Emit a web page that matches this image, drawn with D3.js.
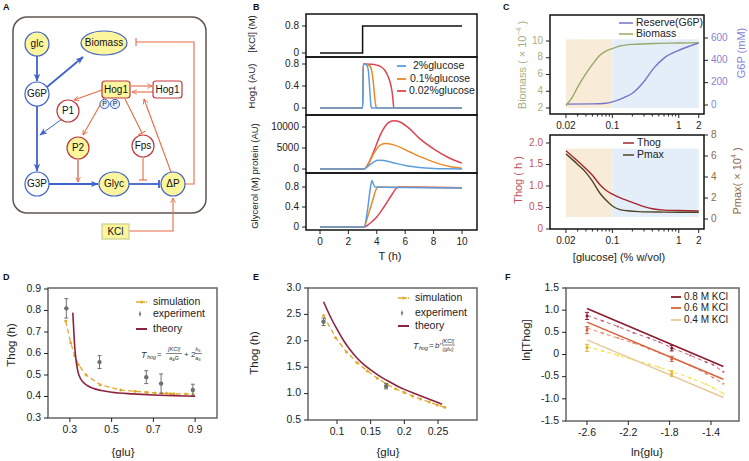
<!DOCTYPE html>
<html><head><meta charset="utf-8">
<script src="https://cdn.jsdelivr.net/npm/d3@7/dist/d3.min.js"></script>
<style>
body{margin:0;background:#fff}
svg{display:block}
text{font-family:"Liberation Sans",Arial,Helvetica,sans-serif}
</style></head><body>
<svg id="fig" width="749" height="461"></svg>
<script>
// ================= DATA =================
// Panel B : time courses  [time (h), value]
const bTimeTicks=[0,2,4,6,8,10];
const bSeriesNames=["2%glucose","0.1%glucose","0.02%glucose"];
const kclStep=[[0,0],[3,0],[3,0.8],[10,0.8]];
const hog2=[[0,0],[3,0],[3.05,0.8],[3.2,0.795],[3.33,0.76],[3.43,0.62],[3.5,0.35],[3.57,0.08],[3.62,0],[10,0]];
const hog01=[[0,0],[3,0],[3.05,0.8],[3.35,0.79],[3.55,0.75],[3.68,0.62],[3.78,0.4],[3.87,0.15],[3.95,0.02],[4.0,0],[10,0]];
const hog002=[[0,0],[3,0],[3.05,0.8],[3.6,0.795],[4.0,0.78],[4.3,0.75],[4.55,0.69],[4.75,0.6],[4.9,0.5],[5.0,0.4],[5.1,0.25],[5.15,0.12],[5.2,0],[10,0]];
const prot2=[[0,0],[3.1,0],[3.4,700],[3.8,1700],[4.1,2080],[4.5,2000],[5.2,1450],[6,850],[7,380],[8,140],[9,45],[10,15]];
const prot01=[[0,0],[3.1,0],[3.4,1200],[3.8,3800],[4.2,5600],[4.6,6100],[5.2,5750],[6.3,4100],[7,3000],[7.75,2000],[8.5,1100],[9.3,500],[10,200]];
const prot002=[[0,0],[3.1,0],[3.4,1200],[3.8,4300],[4.3,8500],[4.8,11000],[5.2,11500],[5.6,11250],[6.2,9900],[7,7300],[8,4800],[9,2800],[10,1400]];
const gly2=[[0,0],[3.1,0],[3.35,0.35],[3.55,0.78],[3.66,0.93],[3.76,0.86],[3.88,0.8],[6,0.79],[10,0.78]];
const gly01=[[0,0],[3.1,0],[3.4,0.25],[3.7,0.52],[3.95,0.75],[4.1,0.8],[6,0.795],[10,0.785]];
const gly002=[[0,0],[3.1,0],[3.5,0.07],[4,0.2],[4.5,0.4],[5,0.62],[5.4,0.78],[5.6,0.8],[10,0.785]];

// Panel C : glucose dependence
const cGluTicks=[0.02,0.1,1,2];
const cGluMinor=[0.03,0.04,0.05,0.06,0.07,0.08,0.09,0.2,0.3,0.4,0.5,0.6,0.7,0.8,0.9];
const cBioGlu=[0.02,0.025,0.03,0.04,0.05,0.065,0.08,0.1,0.13,0.2,0.5,1,2];
const cBiomass=[2.3,3.3,4.5,6.1,7.2,8.3,8.8,9.1,9.4,9.6,9.72,9.76,9.8];
const cG6PGlu=[0.02,0.05,0.08,0.1,0.13,0.16,0.2,0.3,0.42,0.6,1,1.5,2];
const cG6P=[8,10,16,28,50,75,105,210,330,420,490,530,555];
const cThogGlu=[0.02,0.03,0.04,0.05,0.065,0.08,0.1,0.15,0.2,0.3,0.4,0.6,1,2];
const cThog=[1.82,1.58,1.4,1.25,1.03,0.9,0.81,0.69,0.62,0.52,0.47,0.44,0.43,0.42];
const cPmaxGlu=[0.02,0.03,0.041,0.05,0.065,0.08,0.1,0.13,0.17,0.25,0.5,1,2];
const cPmax=[6.2,5.2,4.35,3.6,2.45,1.8,1.24,0.9,0.78,0.7,0.66,0.65,0.64];

// Panel D
const dSimGlu=[0.28,0.304,0.323,0.341,0.378,0.445,0.544,0.612,0.669,0.707,0.74,0.763,0.782,0.798,0.855,0.89];
const dSimT=[0.751,0.65,0.59,0.548,0.50,0.455,0.43,0.424,0.42,0.416,0.415,0.415,0.413,0.413,0.412,0.411];
const dExpGlu=[0.283,0.442,0.666,0.737,0.889];
const dExpT=[0.81,0.56,0.49,0.46,0.43];
const dExpErr=[0.045,0.03,0.03,0.045,0.027];
const dTheoGlu=[0.314,0.318,0.322,0.327,0.333,0.34,0.35,0.365,0.385,0.41,0.45,0.5,0.6,0.7,0.8,0.9];
const dTheoT=[0.79,0.72,0.65,0.59,0.545,0.51,0.485,0.465,0.45,0.438,0.428,0.42,0.412,0.407,0.404,0.401];

// Panel E
const eSimGlu=[0.08,0.098,0.114,0.13,0.145,0.16,0.174,0.187,0.2,0.212,0.224,0.237,0.249,0.26];
const eSimT=[2.48,2.06,1.79,1.585,1.43,1.29,1.18,1.09,1.02,0.955,0.90,0.84,0.785,0.74];
const eExpGlu=[0.08,0.173];
const eExpT=[2.36,1.14];
const eExpErr=[0.07,0.05];
const eTheoGlu=[0.08,0.09,0.1,0.11,0.12,0.13,0.14,0.15,0.16,0.17,0.18,0.19,0.2,0.22,0.24,0.256];
const eTheoT=[2.74,2.46,2.22,2.0,1.82,1.67,1.55,1.45,1.36,1.28,1.21,1.14,1.08,0.98,0.88,0.80];

// Panel F
const fKCl=["0.8 M KCl","0.6 M KCl","0.4 M KCl"];
const fFitLnGlu=[-2.6,-1.28];
const fFit08=[1.04,-0.27], fFit06=[0.73,-0.56], fFit04=[0.33,-0.97];
const fSimLnGlu=[-2.6,-2.45,-2.3,-2.15,-2.0,-1.9,-1.78,-1.6,-1.45,-1.38,-1.28];
const fSim08=[0.88,0.76,0.63,0.49,0.37,0.28,0.15,-0.02,-0.17,-0.23,-0.39];
const fSim06=[0.6,0.48,0.37,0.26,0.13,0.04,-0.07,-0.25,-0.43,-0.52,-0.66];
const fSim04=[0.18,0.08,-0.02,-0.12,-0.22,-0.29,-0.38,-0.53,-0.67,-0.75,-0.88];
const fExpLnGlu=[-2.6,-1.78];
const fExp08=[0.87,0.14], fExp06=[0.55,-0.1], fExp04=[0.15,-0.43];
const fExpErr=[0.08,0.06];

// ================= DRAWING =================
const svg=d3.select("#fig");
const SERIF='"Liberation Serif","Times New Roman",serif';
const defs=svg.append("defs");

function T(g,x,y,s,o={}){
  const t=g.append("text").attr("x",x).attr("y",y).text(s)
    .attr("font-size",o.size||10).attr("fill",o.fill||"#222")
    .attr("text-anchor",o.anchor||"start").attr("dominant-baseline",o.base||"middle");
  if(o.weight) t.attr("font-weight",o.weight);
  if(o.family) t.attr("font-family",o.family);
  if(o.style) t.attr("font-style",o.style);
  if(o.rotate) t.attr("transform",`rotate(${o.rotate},${x},${y})`);
  return t;
}
function L(g,x1,y1,x2,y2,stroke,w,extra){
  const l=g.append("line").attr("x1",x1).attr("y1",y1).attr("x2",x2).attr("y2",y2)
   .attr("stroke",stroke).attr("stroke-width",w||1);
  if(extra&&extra.dash) l.attr("stroke-dasharray",extra.dash);
  if(extra&&extra.marker) l.attr("marker-end",`url(#${extra.marker})`);
  return l;
}
function yAxis(g,scale,x,ticks,o){
  ticks.forEach(v=>{
    const y=scale(v); const dir=o.right?1:-1;
    L(g,x,y,x+dir*(o.len||4),y,o.tickColor||"#222",1);
    T(g,x+dir*(o.len||4)+dir*3,y,o.fmt?o.fmt(v):String(v),{size:o.size||10,fill:o.fill||"#222",anchor:o.right?"start":"end"});
  });
}
function xAxis(g,scale,y,ticks,o){
  ticks.forEach(v=>{
    const x=scale(v);
    L(g,x,y,x,y+(o.len||4),o.tickColor||"#222",1);
    T(g,x,y+(o.len||4)+8,o.fmt?o.fmt(v):String(v),{size:o.size||10,fill:o.fill||"#222",anchor:"middle"});
  });
}
function frame(g,x0,y0,x1,y1,stroke,w){
  g.append("rect").attr("x",x0).attr("y",y0).attr("width",x1-x0).attr("height",y1-y0)
   .attr("fill","none").attr("stroke",stroke).attr("stroke-width",w);
}

// panel letters
const letters=[["A",3,8],["B",253,8],["C",503,8],["D",3,278],["E",253,278],["F",505,278]];
letters.forEach(([s,x,y])=>T(svg,x,y,s,{size:9,weight:"bold",fill:"#111"}));

// ---------- Panel A (schematic) ----------
const A=svg.append("g");
const blue="#3f63c8", red="#e76b47", nRed="#c0393c", yel="#fbf59e";
function mk(id,color,filled){
  const m=defs.append("marker").attr("id",id).attr("viewBox","0 0 10 10").attr("refX",9).attr("refY",5)
    .attr("markerWidth",filled?8:6).attr("markerHeight",filled?8:6).attr("orient","auto").attr("markerUnits","userSpaceOnUse");
  if(filled) m.append("path").attr("d","M0,1L10,5L0,9L2.5,5Z").attr("fill",color);
  else m.append("path").attr("d","M1,1L9,5L1,9").attr("fill","none").attr("stroke",color).attr("stroke-width",1.4);
}
mk("mb",blue,true); mk("mr",red,false);
A.append("rect").attr("x",13).attr("y",17).attr("width",193).attr("height",196).attr("rx",14)
 .attr("fill","none").attr("stroke","#5f554f").attr("stroke-width",1.5);
function tbar(g,x1,y1,x2,y2,color,w){
  L(g,x1,y1,x2,y2,color,w);
  const dx=x2-x1,dy=y2-y1,n=Math.hypot(dx,dy),px=-dy/n*4,py=dx/n*4;
  L(g,x2+px,y2+py,x2-px,y2-py,color,w);
}
// blue pathways
L(A,37,56,37,81,blue,1.8,{marker:"mb"});
L(A,47,87,83,57,blue,1.8,{marker:"mb"});
L(A,37,106,37,171,blue,1.8,{marker:"mb"});
L(A,49,184,98,184,blue,1.8,{marker:"mb"});
tbar(A,129,184,159,184,blue,1.8);
L(A,62,119,40,135,blue,1,{marker:"mb"});
// red regulation
L(A,102,90,74,100,red,1.1,{marker:"mr"});
L(A,104,98,83,135,red,1.1,{marker:"mr"});
tbar(A,125,99,142,133,red,1.1);
L(A,78,160,78,182,"#b8443a",1.1,{marker:"mr"});
tbar(A,143,158,143,180,red,1.1);
L(A,131,86,152,86,red,1.1,{marker:"mr"});
L(A,153,92,132,92,red,1.1,{marker:"mr"});
L(A,171,172,144,99,red,1.1,{marker:"mr"});
A.append("path").attr("d","M185,184H194V42H136").attr("fill","none").attr("stroke",red).attr("stroke-width",1.1);
L(A,136,38,136,46,red,1.1);
A.append("path").attr("d","M129,231H173V198").attr("fill","none").attr("stroke",red).attr("stroke-width",1.1).attr("marker-end","url(#mr)");
// nodes
const aNodes=[
 {label:"glc",shape:"e",cx:37,cy:44,rx:12,ry:12,fill:yel,stroke:blue},
 {label:"Biomass",shape:"e",cx:104,cy:43,rx:23,ry:12,fill:yel,stroke:blue},
 {label:"G6P",shape:"e",cx:37,cy:94,rx:12,ry:12,fill:"#fff",stroke:blue},
 {label:"G3P",shape:"e",cx:37,cy:184,rx:12,ry:12,fill:"#fff",stroke:blue},
 {label:"Glyc",shape:"e",cx:114,cy:184,rx:15,ry:12,fill:yel,stroke:blue},
 {label:"ΔP",shape:"e",cx:173,cy:184,rx:12,ry:12,fill:yel,stroke:blue},
 {label:"P1",shape:"e",cx:68,cy:111,rx:11,ry:11,fill:"#fff",stroke:nRed},
 {label:"P2",shape:"e",cx:78,cy:148,rx:11,ry:11,fill:yel,stroke:nRed},
 {label:"Fps",shape:"e",cx:143,cy:146,rx:11,ry:11,fill:"#fff",stroke:nRed},
 {label:"Hog1",shape:"r",cx:116,cy:89.5,w:28,h:17,fill:yel,stroke:nRed},
 {label:"Hog1",shape:"r",cx:167.5,cy:89.5,w:29,h:17,fill:"#fff",stroke:nRed},
 {label:"KCl",shape:"r",cx:115.5,cy:231.5,w:27,h:15,fill:yel,stroke:"#c9cf8c",sq:true}
];
aNodes.forEach(n=>{
  if(n.shape==="e") A.append("ellipse").attr("cx",n.cx).attr("cy",n.cy).attr("rx",n.rx).attr("ry",n.ry)
     .attr("fill",n.fill).attr("stroke",n.stroke).attr("stroke-width",1.2);
  else A.append("rect").attr("x",n.cx-n.w/2).attr("y",n.cy-n.h/2).attr("width",n.w).attr("height",n.h).attr("rx",n.sq?0:3)
     .attr("fill",n.fill).attr("stroke",n.stroke).attr("stroke-width",1.2);
  T(A,n.cx,n.cy+0.5,n.label,{size:10,anchor:"middle",fill:"#111"});
});
[[104.5,104],[115,104]].forEach(([x,y])=>{
  A.append("circle").attr("cx",x).attr("cy",y).attr("r",4.6).attr("fill","#e6ecfb").attr("stroke",blue).attr("stroke-width",1);
  T(A,x,y+0.5,"P",{size:7,anchor:"middle",fill:"#222"});
});

// ---------- Panel B ----------
const B=svg.append("g");
const bCol=["#5b9ee0","#e88a25","#de4452"];
const bX=d3.scaleLinear().domain([0,10]).range([320,462]);
const bPan=[
 {top:14,bot:57,y:d3.scaleLinear().domain([0,0.8]).range([53,26]),ticks:[0,0.8],series:[kclStep],colors:["#111"],curve:d3.curveLinear},
 {top:57,bot:115,y:d3.scaleLinear().domain([0,0.8]).range([108,64]),ticks:[0,0.4,0.8],series:[hog002,hog01,hog2],colors:[bCol[2],bCol[1],bCol[0]],curve:d3.curveMonotoneX},
 {top:115,bot:173,y:d3.scaleLinear().domain([0,10000]).range([169,127]),ticks:[0,5000,10000],series:[prot002,prot01,prot2],colors:[bCol[2],bCol[1],bCol[0]],curve:d3.curveMonotoneX},
 {top:173,bot:230,y:d3.scaleLinear().domain([0,0.8]).range([227,187]),ticks:[0,0.4,0.8],series:[gly002,gly01,gly2],colors:[bCol[2],bCol[1],bCol[0]],curve:d3.curveMonotoneX}
];
bPan.forEach(p=>{
  p.series.forEach((s,i)=>{
    B.append("path").datum(s).attr("fill","none").attr("stroke",p.colors[i]).attr("stroke-width",1.5)
     .attr("d",d3.line().x(d=>bX(d[0])).y(d=>p.y(d[1])).curve(p.curve));
  });
  yAxis(B,p.y,306,p.ticks,{len:4,size:10,fill:"#222"});
});
bPan.forEach(p=>frame(B,306,p.top,477,p.bot,"#111",1.5));
xAxis(B,bX,230,bTimeTicks,{len:4,size:10});
T(B,390,257,"T (h)",{size:11,anchor:"middle"});
T(B,252,34,"[KCl] (M)",{size:9.5,anchor:"middle",rotate:-90});
T(B,252,86,"Hog1 (AU)",{size:9.5,anchor:"middle",rotate:-90});
T(B,255,176,"Glycerol (M) protein (AU)",{size:9.5,anchor:"middle",rotate:-90});
bSeriesNames.forEach((nm,i)=>{
  const y=[66,79,91][i];
  L(B,397,y,406,y,bCol[i],1.8);
  T(B,[413,410,409][i],y,nm,{size:10.5});
});

// ---------- Panel C ----------
const C=svg.append("g");
const cX=d3.scaleLog().domain([0.0115,2.4]).range([550,704]);
const cShadeLo="#f8ecd8", cShadeHi="#e4eef9";
function logXAxis(g,y){
  cGluMinor.forEach(v=>L(g,cX(v),y,cX(v),y+2.5,"#222",1));
  xAxis(g,cX,y,cGluTicks,{len:4,size:10});
}
// top
const cBioY=d3.scaleLinear().domain([2,10]).range([108,41]);
const cG6PY=d3.scaleLinear().domain([0,600]).range([105,38]);
C.append("rect").attr("x",cX(0.02)).attr("y",cBioY(10.2)).attr("width",cX(0.1)-cX(0.02)).attr("height",cBioY(2)-cBioY(10.2)).attr("fill",cShadeLo);
C.append("rect").attr("x",cX(0.1)).attr("y",cBioY(10.2)).attr("width",cX(2)-cX(0.1)).attr("height",cBioY(2)-cBioY(10.2)).attr("fill",cShadeHi);
C.append("path").datum(d3.zip(cG6PGlu,cG6P)).attr("fill","none").attr("stroke","#7474c8").attr("stroke-width",1.4)
 .attr("d",d3.line().x(d=>cX(d[0])).y(d=>cG6PY(d[1])).curve(d3.curveMonotoneX));
C.append("path").datum(d3.zip(cBioGlu,cBiomass)).attr("fill","none").attr("stroke","#98a86a").attr("stroke-width",1.4)
 .attr("d",d3.line().x(d=>cX(d[0])).y(d=>cBioY(d[1])).curve(d3.curveMonotoneX));
frame(C,550,15,704,114,"#111",1.5);
yAxis(C,cBioY,550,[2,4,6,8,10],{size:10,fill:"#a7b07f"});
yAxis(C,cG6PY,704,[0,200,400,600],{right:true,size:10,fill:"#8383d6"});
logXAxis(C,114);
L(C,619,23,633,23,"#7474c8",1.5); T(C,636,23,"Reserve(G6P)",{size:10.5});
L(C,619,34,633,34,"#98a86a",1.5); T(C,636,34,"Biomass",{size:10.5});
const bioLab=T(C,523,65,"",{size:11,anchor:"middle",rotate:-90,fill:"#a7b07f"});
bioLab.append("tspan").text("Biomass ( × 10");
bioLab.append("tspan").text("−4").attr("font-size",7).attr("dy",-4);
bioLab.append("tspan").text(" )").attr("dy",4);
T(C,742,53,"G6P (mM)",{size:11,anchor:"middle",rotate:-90,fill:"#8383d6"});
// bottom
const cThY=d3.scaleLinear().domain([0,2]).range([229,143]);
const cPmY=d3.scaleLinear().domain([0,8]).range([219,135]);
C.append("rect").attr("x",cX(0.02)).attr("y",cThY(1.87)).attr("width",cX(0.1)-cX(0.02)).attr("height",cThY(0.28)-cThY(1.87)).attr("fill",cShadeLo);
C.append("rect").attr("x",cX(0.1)).attr("y",cThY(1.87)).attr("width",cX(2)-cX(0.1)).attr("height",cThY(0.28)-cThY(1.87)).attr("fill",cShadeHi);
C.append("path").datum(d3.zip(cThogGlu,cThog)).attr("fill","none").attr("stroke","#a5262e").attr("stroke-width",1.4)
 .attr("d",d3.line().x(d=>cX(d[0])).y(d=>cThY(d[1])).curve(d3.curveMonotoneX));
C.append("path").datum(d3.zip(cPmaxGlu,cPmax)).attr("fill","none").attr("stroke","#4f4424").attr("stroke-width",1.4)
 .attr("d",d3.line().x(d=>cX(d[0])).y(d=>cPmY(d[1])).curve(d3.curveMonotoneX));
frame(C,550,135,704,229,"#111",1.5);
yAxis(C,cThY,550,[0,0.5,1,1.5,2],{size:10,fill:"#c4525a",fmt:v=>v===0?"0":v.toFixed(1)});
yAxis(C,cPmY,704,[0,2,4,6,8],{right:true,size:10,fill:"#8b6c4c"});
logXAxis(C,229);
L(C,623,143,634,143,"#a5262e",1.5); T(C,637,143,"Thog",{size:10.5});
L(C,623,155,634,155,"#4f4424",1.5); T(C,637,155,"Pmax",{size:10.5});
T(C,519,180,"Thog ( h )",{size:11,anchor:"middle",rotate:-90,fill:"#c4525a"});
const pmLab=T(C,738,181,"",{size:11,anchor:"middle",rotate:-90,fill:"#8b6c4c"});
pmLab.append("tspan").text("Pmax( × 10");
pmLab.append("tspan").text("4").attr("font-size",7).attr("dy",-4);
pmLab.append("tspan").text(" )").attr("dy",4);
T(C,619,258,"[glucose] (% w/vol)",{size:11,anchor:"middle"});

// ---------- shared helpers for D/E/F ----------
const simCol="#e2a92c", expCol="#6f6f6f", theoCol="#8c2340";
function errPts(g,xs,ys,es,sx,sy,color,r){
  xs.forEach((x,i)=>{
    const px=sx(x);
    L(g,px,sy(ys[i]-es[i]),px,sy(ys[i]+es[i]),color,1);
    L(g,px-2,sy(ys[i]-es[i]),px+2,sy(ys[i]-es[i]),color,1);
    L(g,px-2,sy(ys[i]+es[i]),px+2,sy(ys[i]+es[i]),color,1);
    g.append("circle").attr("cx",px).attr("cy",sy(ys[i])).attr("r",r).attr("fill",color);
  });
}
function simLine(g,xs,ys,sx,sy,color,dash,w){
  const pts=d3.zip(xs,ys);
  g.append("path").datum(pts).attr("fill","none").attr("stroke",color).attr("stroke-width",w||1.3).attr("stroke-dasharray",dash||"5,3")
   .attr("d",d3.line().x(d=>sx(d[0])).y(d=>sy(d[1])));
  g.selectAll(null).data(pts).enter().append("circle").attr("cx",d=>sx(d[0])).attr("cy",d=>sy(d[1])).attr("r",w?1.1:1.5).attr("fill",color);
}
function solid(g,xs,ys,sx,sy,color,w,curve){
  g.append("path").datum(d3.zip(xs,ys)).attr("fill","none").attr("stroke",color).attr("stroke-width",w||1.6)
   .attr("d",d3.line().x(d=>sx(d[0])).y(d=>sy(d[1])).curve(curve||d3.curveMonotoneX));
}
function legendDE(g,x,ys){
  L(g,x,ys[0],x+11,ys[0],simCol,1.3,{dash:"4,1"}); g.append("circle").attr("cx",x+5.5).attr("cy",ys[0]).attr("r",1.5).attr("fill",simCol);
  L(g,x+4,ys[1]-2.5,x+4,ys[1]+2.5,expCol,1); g.append("circle").attr("cx",x+4).attr("cy",ys[1]).attr("r",1.1).attr("fill",expCol);
  L(g,x,ys[2],x+11,ys[2],theoCol,2);
  ["simulation","experiment","theory"].forEach((s,i)=>T(g,x+17,ys[i],s,{size:10.5}));
}

// ---------- Panel D ----------
const D=svg.append("g");
const dX=d3.scaleLinear().domain([0.2,1.0]).range([49,216]);
const dY=d3.scaleLinear().domain([0.3,0.9]).range([418,289]);
simLine(D,dSimGlu,dSimT,dX,dY,simCol);
errPts(D,dExpGlu,dExpT,dExpErr,dX,dY,expCol,2.2);
solid(D,dTheoGlu,dTheoT,dX,dY,theoCol,1.6);
frame(D,48,288,217,418,"#666",1.5);
yAxis(D,dY,48,[0.3,0.4,0.5,0.6,0.7,0.8,0.9],{size:10.5,fmt:v=>v.toFixed(1)});
xAxis(D,dX,418,[0.3,0.5,0.7,0.9],{size:10.5,fmt:v=>v.toFixed(1)});
legendDE(D,136,[302,314,329]);
T(D,12,345,"Thog (h)",{size:11.5,anchor:"middle",rotate:-90});
T(D,123,453,"{glu}",{size:11.5,anchor:"middle"});
// formula
(function(){
  const g=D, f=SERIF;
  T(g,141,356,"T",{size:9,family:f,style:"italic",fill:"#333"});
  T(g,147,358,"hog",{size:5.5,family:f,style:"italic",fill:"#333"});
  T(g,157,355,"=",{size:8,family:f,fill:"#333"});
  T(g,174,350,"[KCl]",{size:5.5,family:f,style:"italic",fill:"#333",anchor:"middle"});
  L(g,166,353.5,182,353.5,"#333",0.6);
  T(g,174,358.5,"a₄G",{size:5.5,family:f,style:"italic",fill:"#333",anchor:"middle"});
  T(g,184,355,"+ 2",{size:8,family:f,fill:"#333"});
  T(g,198,350,"k₅",{size:5.5,family:f,style:"italic",fill:"#333",anchor:"middle"});
  L(g,195,353.5,202,353.5,"#333",0.6);
  T(g,198,358.5,"a₅",{size:5.5,family:f,style:"italic",fill:"#333",anchor:"middle"});
})();

// ---------- Panel E ----------
const E=svg.append("g");
const eX=d3.scaleLinear().domain([0.1,0.25]).range([337,438]);
const eY=d3.scaleLinear().domain([0.5,3.0]).range([420,288]);
simLine(E,eSimGlu,eSimT,eX,eY,simCol);
errPts(E,eExpGlu,eExpT,eExpErr,eX,eY,expCol,2.2);
solid(E,eTheoGlu,eTheoT,eX,eY,theoCol,1.6);
frame(E,308,288,477,420,"#666",1.5);
yAxis(E,eY,308,[0.5,1,1.5,2,2.5,3],{size:10.5,fmt:v=>v.toFixed(1)});
xAxis(E,eX,420,[0.1,0.15,0.2,0.25],{size:10.5});
legendDE(E,398,[298,313,326]);
T(E,255,353,"Thog (h)",{size:11.5,anchor:"middle",rotate:-90});
T(E,388,453,"{glu}",{size:11.5,anchor:"middle"});
(function(){
  const g=E, f=SERIF;
  T(g,413,347,"T",{size:9,family:f,style:"italic",fill:"#333"});
  T(g,419,349,"hog",{size:5.5,family:f,style:"italic",fill:"#333"});
  T(g,429,346,"=",{size:8,family:f,fill:"#333"});
  T(g,435,346,"b′",{size:8,family:f,style:"italic",fill:"#333"});
  T(g,448,341.5,"[KCl]",{size:5.5,family:f,style:"italic",fill:"#333",anchor:"middle"});
  L(g,442,345,455,345,"#333",0.6);
  T(g,448,350,"(glu)",{size:5.5,family:f,style:"italic",fill:"#333",anchor:"middle"});
})();

// ---------- Panel F ----------
const F=svg.append("g");
const fX=d3.scaleLinear().domain([-2.6,-1.4]).range([587,711]);
const fY=d3.scaleLinear().domain([-1.5,1.5]).range([421,288]);
const fFitCol=["#8a1c2e","#d9623c","#e9c99c"];
const fSimCol=["#c0607a","#e88a6a","#f3e23c"];
const fExpCol=["#8a1c2e","#d2653f","#e2b234"];
[[fFit08,fSim08,fExp08],[fFit06,fSim06,fExp06],[fFit04,fSim04,fExp04]].forEach(([fit,sim,ex],i)=>{
  simLine(F,fSimLnGlu,sim,fX,fY,fSimCol[i],"4,3",1);
  solid(F,fFitLnGlu,fit,fX,fY,fFitCol[i],1.6,d3.curveLinear);
  errPts(F,fExpLnGlu,ex,fExpErr,fX,fY,fExpCol[i],1.5);
});
frame(F,566,288,739,421,"#666",1.5);
yAxis(F,fY,566,[-1.5,-1,-0.5,0,0.5,1,1.5],{size:10.5,fmt:v=>v===0?"0":v.toFixed(1)});
xAxis(F,fX,421,[-2.6,-2.2,-1.8,-1.4],{size:10.5,fmt:v=>v.toFixed(1)});
fKCl.forEach((s,i)=>{
  const y=[297,308,320][i];
  L(F,671,y,681,y,fFitCol[i],1.8);
  T(F,684,y,s,{size:10});
});
T(F,527,340,"ln[Thog]",{size:11.5,anchor:"middle",rotate:-90});
T(F,647,453,"ln{glu}",{size:11.5,anchor:"middle"});
</script></body></html>
